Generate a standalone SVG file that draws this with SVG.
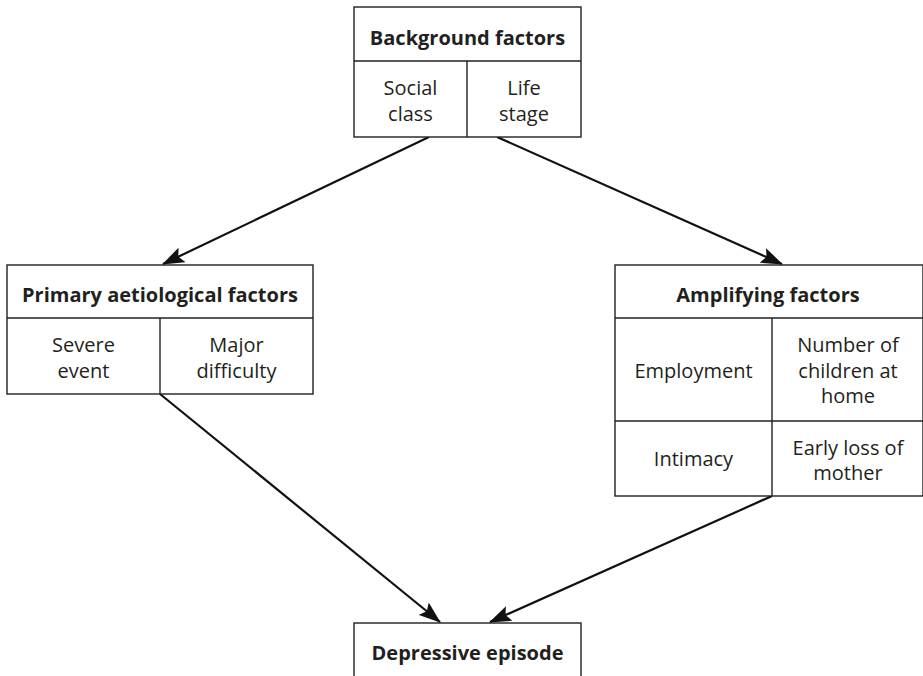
<svg xmlns="http://www.w3.org/2000/svg" width="923" height="676" viewBox="0 0 923 676">
<style>
.box{fill:#fff;stroke:#231f20;stroke-width:1.4}
.div{stroke:#231f20;stroke-width:1.4;fill:none}
.t{font-family:"Open Sans","Noto Sans","Liberation Sans",sans-serif;font-size:20px;fill:#231f20;text-anchor:middle}
.b{font-weight:bold}
.arr{stroke:#111;stroke-width:2.2;fill:none;marker-end:url(#ah)}
</style>
<defs>
<marker id="ah" viewBox="0 0 22 16" refX="21" refY="8" markerWidth="22" markerHeight="16" markerUnits="userSpaceOnUse" orient="auto">
<path d="M0,0 L22,8 L0,16 L4,8 Z" fill="#111"/>
</marker>
</defs>
<rect width="923" height="676" fill="#fff"/>
<g id="connectors">
<line class="arr" x1="429" y1="137" x2="163" y2="264"/>
<line class="arr" x1="497" y1="137" x2="782" y2="264"/>
<line class="arr" x1="160" y1="394" x2="440" y2="622"/>
<line class="arr" x1="772" y1="496" x2="490" y2="622"/>
</g>
<g id="background">
<rect class="box" x="354" y="7" width="227" height="130"/>
<line class="div" x1="354" y1="61" x2="581" y2="61"/>
<line class="div" x1="467" y1="61" x2="467" y2="137"/>
<text class="t b" x="467.5" y="45">Background factors</text>
<text class="t" x="410.5" y="95">Social</text>
<text class="t" x="410.5" y="121">class</text>
<text class="t" x="524" y="95">Life</text>
<text class="t" x="524" y="121">stage</text>
</g>
<g id="primary">
<rect class="box" x="7" y="265" width="306" height="129"/>
<line class="div" x1="7" y1="318" x2="313" y2="318"/>
<line class="div" x1="160" y1="318" x2="160" y2="394"/>
<text class="t b" x="160" y="302">Primary aetiological factors</text>
<text class="t" x="83.5" y="352">Severe</text>
<text class="t" x="83.5" y="378">event</text>
<text class="t" x="236.5" y="352">Major</text>
<text class="t" x="236.5" y="378">difficulty</text>
</g>
<g id="amplifying">
<rect class="box" x="615" y="265" width="308" height="231"/>
<line class="div" x1="615" y1="318" x2="923" y2="318"/>
<line class="div" x1="615" y1="421" x2="923" y2="421"/>
<line class="div" x1="772" y1="318" x2="772" y2="496"/>
<text class="t b" x="768" y="302">Amplifying factors</text>
<text class="t" x="693.5" y="378">Employment</text>
<text class="t" x="848" y="352">Number of</text>
<text class="t" x="848" y="378">children at</text>
<text class="t" x="848" y="403">home</text>
<text class="t" x="693.5" y="466">Intimacy</text>
<text class="t" x="848" y="455">Early loss of</text>
<text class="t" x="848" y="480">mother</text>
</g>
<g id="depressive">
<rect class="box" x="354" y="623" width="227" height="70"/>
<text class="t b" x="467.5" y="660">Depressive episode</text>
</g>
</svg>
